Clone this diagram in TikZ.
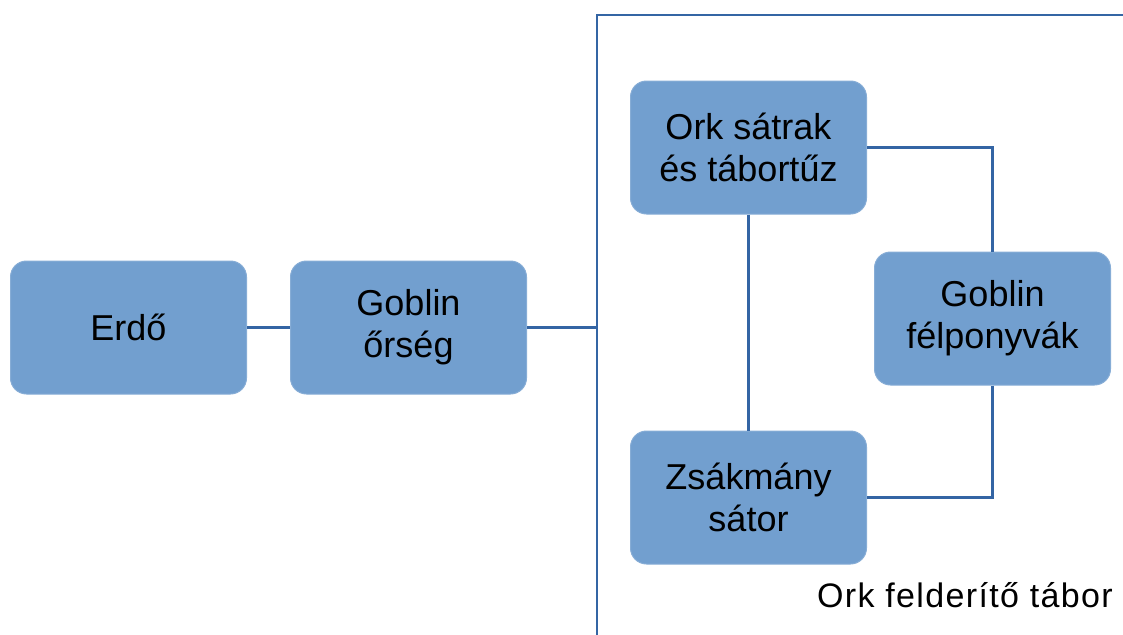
\documentclass[tikz,border=0pt]{standalone}
\usepackage{fontspec}
\setmainfont{Liberation Sans}
\newfontfamily\lblfont[LetterSpace=4]{Liberation Sans}
\definecolor{boxblue}{HTML}{729FCF}
\definecolor{lineblue}{HTML}{3465A4}
\tikzset{
  stepbox/.style={rectangle, rounded corners=16pt, fill=boxblue, draw=boxblue!85!white, line width=1pt,
    minimum width=236pt, minimum height=133pt, inner sep=0pt, align=center,
    font=\fontsize{36}{42}\selectfont, text=black},
  conn/.style={draw=lineblue, line width=2.6pt},
}
\begin{document}
\begin{tikzpicture}[x=1pt,y=-1pt]
\useasboundingbox (0,0) rectangle (1123,634);
\node[stepbox] (erdo) at (128.5,327.5) {Erdő};
\node[stepbox] (gor) at (408.5,327.5) {Goblin\\őrség};
\node[stepbox] (ork) at (748.5,147.5) {Ork sátrak\\és tábortűz};
\node[stepbox] (zs) at (748.5,497.5) {Zsákmány\\sátor};
\node[stepbox] (gf) at (992.5,318.5) {Goblin\\félponyvák};
\coordinate (ftr) at (1126,15);
\coordinate (ftl) at (597,15);
\coordinate (fbl) at (597,637);
\draw[conn] (ftr) -- (ftl) -- (fbl);
\draw[conn] (erdo) -- (gor);
\draw[conn] (gor.east) -- (gor.east -| ftl);
\draw[conn] (ork) -- (zs);
\draw[conn] (ork.east) -| (gf.north);
\draw[conn] (gf.south) |- (zs.east);
\node[anchor=base east, font=\lblfont\fontsize{34}{38}\selectfont, inner sep=0pt] (lbl) at (1113,607) {Ork felderítő tábor};
\end{tikzpicture}
\end{document}
